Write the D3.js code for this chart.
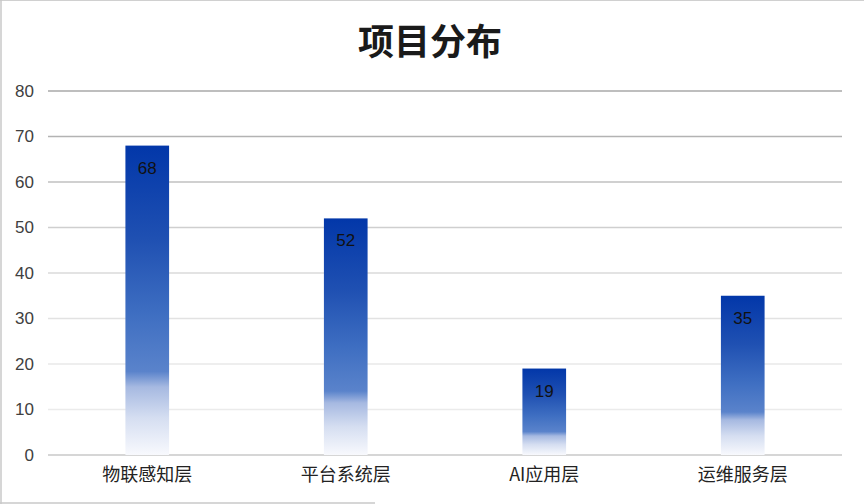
<!DOCTYPE html>
<html>
<head>
<meta charset="utf-8">
<script src="https://cdn.jsdelivr.net/npm/d3@7"></script>
<style>
  html, body { margin: 0; padding: 0; background: #fff; }
  svg { display: block; }
</style>
</head>
<body>
<svg id="chart" width="864" height="504"></svg>
<script>
// Project distribution by layer
const categories = ["物联感知层", "平台系统层", "AI应用层", "运维服务层"];
const values = [68, 52, 19, 35];
const yTicks = [0, 10, 20, 30, 40, 50, 60, 70, 80];
const gridColors = ["#c8c8c8", "#ebebeb", "#e8e8e8", "#e2e2e2", "#dadada", "#cfcfcf", "#c0c0c0", "#b3b3b3", "#a9a9a9"];

const W = 864, H = 504;
const margin = { top: 91, right: 22, bottom: 49, left: 48 };
const svg = d3.select("#chart");

// frame
svg.append("line").attr("x1", 0).attr("x2", W).attr("y1", 0.5).attr("y2", 0.5)
  .attr("stroke", "#d0d0d0").attr("stroke-width", 1);
svg.append("line").attr("x1", 1).attr("x2", 1).attr("y1", 0).attr("y2", 504)
  .attr("stroke", "#c8c8c8").attr("stroke-width", 1.5);
svg.append("line").attr("x1", 0).attr("x2", 375).attr("y1", 503).attr("y2", 503)
  .attr("stroke", "#c8c8c8").attr("stroke-width", 1.5);

const x = d3.scaleBand().domain(categories)
  .range([margin.left, W - margin.right]).paddingInner(0.78).paddingOuter(0.39);
const y = d3.scaleLinear().domain([0, 80]).range([H - margin.bottom, margin.top]);

// title
svg.append("text").attr("x", 430).attr("y", 55)
  .attr("text-anchor", "middle")
  .attr("font-family", "'Noto Sans CJK SC', sans-serif")
  .attr("font-weight", "bold").attr("font-size", 36).attr("fill", "#1a1a1a")
  .text("项目分布");

// gradient for bars (per bar bounding box)
const defs = svg.append("defs");
const grad = defs.append("linearGradient").attr("id", "barGrad")
  .attr("x1", 0).attr("y1", 0).attr("x2", 0).attr("y2", 1);
[
  [0, "#0237a9"],
  [0.3, "#1f50b2"],
  [0.55, "#3f6fc2"],
  [0.73, "#5a83cb"],
  [0.78, "#a6b9e1"],
  [0.88, "#d5def1"],
  [1, "#f8f9fd"]
].forEach(([o, c]) => grad.append("stop").attr("offset", o).attr("stop-color", c));

// grid lines and tick labels
const grid = svg.append("g");
yTicks.forEach((t, i) => {
  grid.append("line")
    .attr("x1", margin.left).attr("x2", W - margin.right)
    .attr("y1", y(t)).attr("y2", y(t))
    .attr("stroke", gridColors[i]).attr("stroke-width", 1.6);
});
const yAxis = d3.axisLeft(y).tickValues(yTicks).tickSize(0).tickPadding(14);
const yg = svg.append("g").attr("transform", `translate(${margin.left},0)`).call(yAxis);
yg.select(".domain").remove();
yg.selectAll("text").attr("font-family", "'Liberation Sans', Arial, sans-serif")
  .attr("font-size", 17).attr("fill", "#404040");

// bars
svg.append("g").selectAll("rect").data(values).join("rect")
  .attr("x", (d, i) => x(categories[i]))
  .attr("width", x.bandwidth())
  .attr("y", d => y(d))
  .attr("height", d => y(0) - y(d))
  .attr("fill", "url(#barGrad)");

// value labels
svg.append("g").selectAll("text").data(values).join("text")
  .attr("x", (d, i) => x(categories[i]) + x.bandwidth() / 2)
  .attr("y", d => y(d) + 28)
  .attr("text-anchor", "middle")
  .attr("font-family", "'Liberation Sans', Arial, sans-serif")
  .attr("font-size", 17).attr("fill", "#111")
  .text(d => d);

// category axis
const xAxis = d3.axisBottom(x).tickSize(0).tickPadding(13);
const xg = svg.append("g").attr("transform", `translate(0,${y(0)})`).call(xAxis);
xg.select(".domain").remove();
xg.selectAll("text").attr("font-family", "'Noto Sans CJK SC', sans-serif")
  .attr("font-size", 18).attr("fill", "#222");
</script>
</body>
</html>
